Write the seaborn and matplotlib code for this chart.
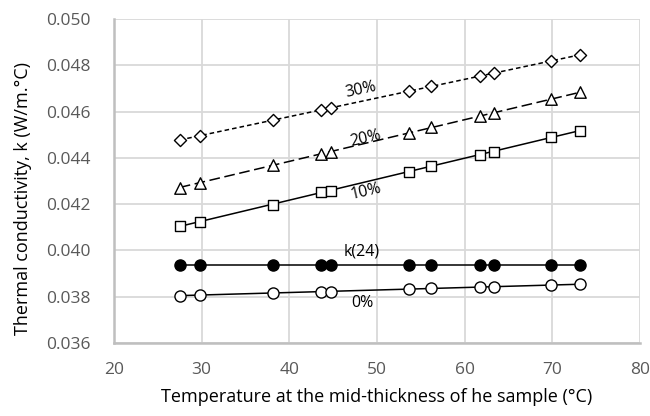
import numpy as np
import pandas as pd
import matplotlib
matplotlib.use("Agg")
import matplotlib.pyplot as plt
import seaborn as sns

# Temperatures at mid-thickness (°C), shared by all series
temps = [27.5, 29.8, 38.1, 43.6, 44.7, 53.6, 56.2, 61.8, 63.3, 69.9, 73.1]

# Thermal conductivity (W/m.°C)
k30 = [0.04477, 0.04496, 0.04562, 0.04607, 0.04616, 0.04690, 0.04709, 0.04752, 0.04767, 0.04817, 0.04846]
k20 = [0.04271, 0.04293, 0.04369, 0.04417, 0.04427, 0.04508, 0.04532, 0.04581, 0.04593, 0.04654, 0.04683]
k10 = [0.04107, 0.04123, 0.04198, 0.04251, 0.04258, 0.04341, 0.04366, 0.04414, 0.04427, 0.04489, 0.04518]
k24 = [0.03937] * len(temps)
k0 = [0.03805, 0.03808, 0.03815, 0.03821, 0.03822, 0.03835, 0.03837, 0.03842, 0.03842, 0.03850, 0.03854]

labels = ["30%", "20%", "10%", "k(24)", "0%"]
label_pos = [(48.1, 0.04693), (48.7, 0.04482), (48.7, 0.04253), (48.3, 0.03994), (48.3, 0.03773)]
label_rot = [12, 13, 13, 0, 0]

sns.set_style("whitegrid")
plt.rcParams["font.family"] = ["Open Sans", "DejaVu Sans"]

fig = plt.figure(figsize=(6.5, 4.16), dpi=100)
ax = fig.add_axes([0.1754, 0.1755, 0.8092, 0.7788])

series = [
    (k30, "D", "white", (0, (3, 2))),
    (k20, "^", "white", (0, (7, 3))),
    (k10, "s", "white", "-"),
    (k24, "o", "black", "-"),
    (k0, "o", "white", "-"),
]
marker_size = {"D": 38, "^": 68, "s": 60, "o": 64}

for vals, mk, fc, ls in series:
    df = pd.DataFrame({"T": temps, "k": vals})
    sns.regplot(data=df, x="T", y="k", ax=ax, scatter=False, ci=None, truncate=True,
                line_kws={"color": "black", "lw": 1.1, "ls": ls, "zorder": 3})
    sns.scatterplot(data=df, x="T", y="k", ax=ax, marker=mk, s=marker_size[mk],
                    facecolor=fc, edgecolor="black", linewidth=1.0, zorder=4)

for lab, (x, y), r in zip(labels, label_pos, label_rot):
    ax.text(x, y, lab, fontsize=11.5, rotation=r, ha="center", va="center",
            color="black", zorder=5, rotation_mode="anchor")

ax.set_xlim(20, 80)
ax.set_ylim(0.036, 0.050)
ax.set_xticks(range(20, 81, 10))
ax.set_yticks(np.arange(0.036, 0.0501, 0.002))
ax.set_yticklabels([f"{v:.3f}" for v in np.arange(0.036, 0.0501, 0.002)])

ax.grid(True, color="#d9d9d9", lw=1.3)
for side in ["top", "right"]:
    ax.spines[side].set_visible(False)
for side in ["left", "bottom"]:
    ax.spines[side].set_color("#bfbfbf")
    ax.spines[side].set_linewidth(1.8)
ax.tick_params(axis="both", colors="#595959", labelsize=12.5, length=5, width=1.3,
               direction="out")
ax.tick_params(axis="y", pad=12)
ax.tick_params(axis="x", pad=9)
ax.tick_params(axis="both", color="#bfbfbf")

ax.set_xlabel("Temperature at the mid-thickness of he sample (°C)", fontsize=13,
              color="black")
ax.set_ylabel("Thermal conductivity, k (W/m.°C)", fontsize=13, color="black")
ax.xaxis.set_label_coords(0.5, -0.14)
ax.yaxis.set_label_coords(-0.155, 0.447)

fig.savefig("out.png", dpi=100)
